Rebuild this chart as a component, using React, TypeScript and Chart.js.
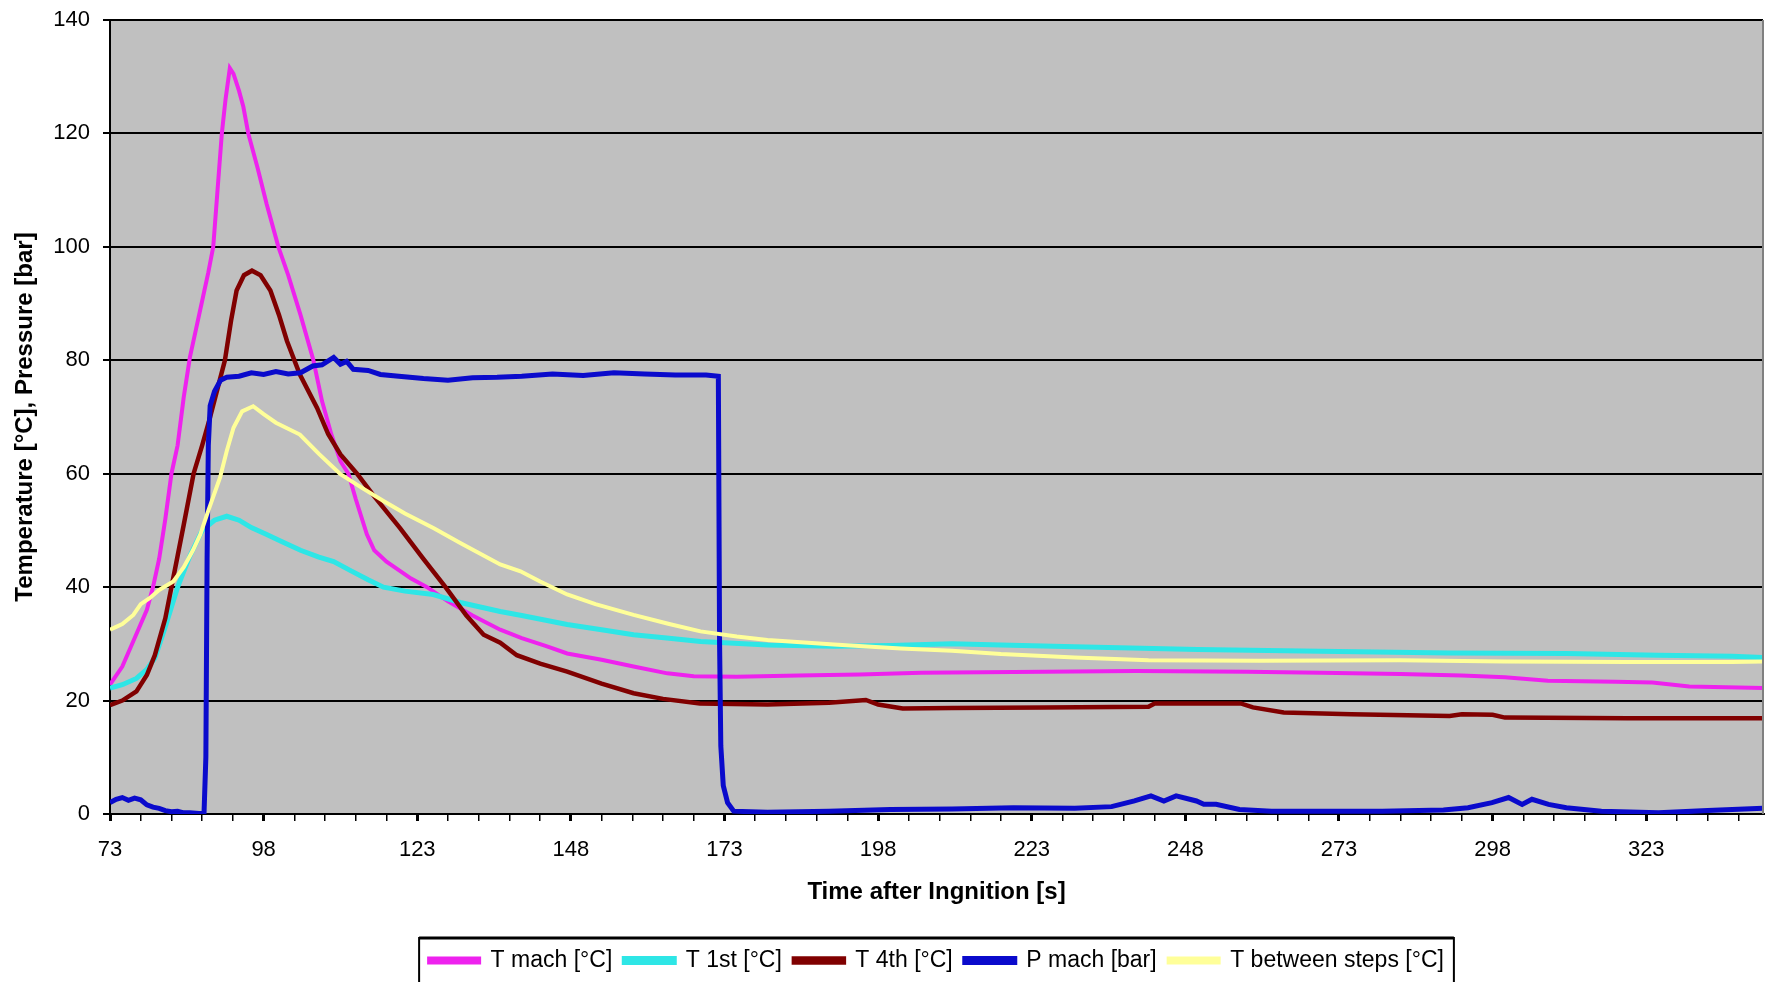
import React, { useEffect, useRef } from 'react';
import { Chart, registerables } from 'chart.js';

Chart.register(...registerables);

// T mach [°C]
const machTime = [73, 75, 77, 79, 80, 81, 82, 83, 84, 85, 86, 87, 88, 89, 89.8, 90.5, 91.2, 91.8, 92.5, 93.1, 94, 94.7, 95.5, 97, 98.5, 100.4, 102, 104, 106.1, 107.5, 109, 110.5, 111.8, 113, 114.8, 116, 118, 120, 122, 124.6, 128, 132, 136.5, 140, 144, 147.4, 153, 158.2, 163.7, 168, 175, 185, 195, 205, 215, 225, 240, 258, 270, 283, 293, 300, 307, 318, 324, 330, 342];
const machTemp = [22.8, 26, 31, 36, 40, 45, 52, 60, 65, 73.5, 80.5, 85.5, 90.5, 95.5, 100, 110, 120, 126, 131.5, 130.5, 127.5, 124.7, 120, 114, 107.5, 100, 95, 88, 80, 72.8, 67, 62.2, 60, 55.5, 49.3, 46.5, 44.5, 43, 41.5, 40, 37.5, 35, 32.5, 31, 29.6, 28.3, 27.2, 26, 24.8, 24.3, 24.2, 24.4, 24.6, 24.9, 25, 25.1, 25.2, 25.1, 24.9, 24.7, 24.4, 24.1, 23.5, 23.3, 23.2, 22.5, 22.2];

// T 1st [°C]
const firstTime = [73, 75, 77.3, 79, 80.3, 82, 84, 86, 88, 90, 92, 94, 96, 98.5, 101, 104, 107, 109.4, 112, 115, 117.5, 121, 125.6, 130, 136.5, 140, 147.4, 153, 158.2, 164, 169.1, 180, 190.8, 200, 210, 218, 230, 250, 270, 291, 310, 325, 337, 342];
const firstTemp = [22.2, 22.8, 23.9, 25.5, 27.5, 33, 40, 45.5, 50, 51.8, 52.5, 51.8, 50.5, 49.3, 48, 46.5, 45.3, 44.5, 43, 41.3, 40, 39.3, 38.7, 37.3, 35.7, 35, 33.4, 32.5, 31.6, 31, 30.4, 29.8, 29.6, 29.7, 30, 29.8, 29.5, 29, 28.7, 28.4, 28.3, 28, 27.8, 27.6];

// T 4th [°C]
const fourthTime = [73, 75, 77.3, 79, 80.3, 82, 83, 84, 85, 86.6, 88, 89.3, 90.5, 91.7, 92.7, 93.6, 94.8, 96.1, 97.5, 99.1, 100.5, 101.8, 103.9, 106.7, 108.5, 110.5, 113.2, 116, 120.2, 124, 127.6, 131, 133.8, 136.5, 139.2, 143, 147.4, 153, 158.2, 163, 169, 180, 190, 196, 198, 202, 210, 225, 242, 243, 257, 259, 264, 275, 291, 293, 298, 300, 320, 342];
const fourthTemp = [19.2, 20, 21.6, 24.5, 28, 34.5, 40, 45.5, 51, 60, 65, 70, 75, 80, 87, 92.3, 95, 95.8, 95, 92.3, 88, 83.4, 77.5, 71.6, 67, 63.4, 60, 56, 50.4, 45, 40, 35, 31.6, 30.2, 28, 26.5, 25.1, 23, 21.3, 20.3, 19.5, 19.3, 19.6, 20.1, 19.3, 18.6, 18.7, 18.8, 18.9, 19.5, 19.5, 18.8, 17.9, 17.6, 17.3, 17.6, 17.5, 17, 16.9, 16.9];

// P mach [bar]
const pressTime = [73, 74, 75, 76, 77, 78, 79, 80, 81, 82, 83, 84, 85, 86, 87.5, 88.3, 88.6, 88.8, 89, 89.3, 90, 91, 92, 94, 96, 98, 100, 102, 104, 106, 107.5, 109.4, 110.5, 111.5, 112.6, 115, 117, 120, 124, 128, 132, 136, 140, 145, 150, 155, 160, 165, 170, 172, 172.2, 172.4, 172.8, 173.5, 174.5, 180, 190, 200, 210, 220, 230, 236, 239.7, 242.4, 244.5, 246.5, 249.8, 251, 253, 256.8, 262, 280, 290, 294, 297.9, 300.6, 302.8, 304.4, 307.1, 310, 315.7, 325, 333, 337, 342];
const pressBar = [2, 2.6, 2.9, 2.4, 2.8, 2.5, 1.6, 1.2, 1, 0.6, 0.4, 0.5, 0.2, 0.2, 0.1, 0.1, 10, 45, 65, 72, 74.5, 76.5, 77, 77.2, 77.8, 77.5, 78, 77.6, 77.8, 79, 79.2, 80.5, 79.3, 79.8, 78.4, 78.2, 77.5, 77.2, 76.8, 76.5, 76.9, 77, 77.2, 77.6, 77.3, 77.8, 77.6, 77.4, 77.4, 77.2, 30, 12, 5, 2, 0.5, 0.3, 0.5, 0.8, 0.9, 1.1, 1, 1.3, 2.3, 3.2, 2.3, 3.2, 2.3, 1.7, 1.7, 0.8, 0.5, 0.5, 0.7, 1.1, 2, 2.9, 1.7, 2.6, 1.7, 1.1, 0.5, 0.2, 0.6, 0.8, 1];

// T between steps [°C]
const betweenTime = [73, 74, 75, 76.8, 78, 79.5, 81, 83.3, 85, 86.5, 87.7, 89, 90.9, 92, 93.1, 94.5, 96.3, 98, 100, 103.9, 107, 110.5, 114, 117.5, 121, 125.7, 130, 136.5, 139.8, 143, 147.4, 152, 158.2, 164, 169.1, 175, 180, 190.8, 201.7, 210, 218, 230, 242, 260, 283, 300, 320, 337, 342];
const betweenTemp = [32.5, 33, 33.5, 35.1, 37, 38.1, 39.5, 41, 43.5, 46.5, 49.3, 53.5, 59.3, 64, 68.1, 71, 71.9, 70.5, 69, 66.9, 63.5, 59.9, 57.5, 55.2, 53, 50.4, 47.8, 44, 42.8, 41, 38.7, 37, 35.1, 33.5, 32.2, 31.3, 30.7, 29.9, 29.2, 28.8, 28.2, 27.6, 27.1, 27, 27.1, 26.9, 26.8, 26.8, 26.9];

const xLabelTicks = [73, 98, 123, 148, 173, 198, 223, 248, 273, 298, 323];
const xMin = 73;
const xMax = 342;

const FONT = 'Arial, "Liberation Sans", sans-serif';

const toPoints = (t: number[], v: number[]) => t.map((x, i) => ({ x, y: v[i] }));

// gray plot background, gray right frame, boxed legend centred under the plot
const excelLook = {
  id: 'excelLook',
  beforeDraw(chart: any) {
    const { ctx, chartArea } = chart;
    const lg = chart.legend;
    if (lg) {
      const mid = (chartArea.left + chartArea.right) / 2;
      const shift = mid - lg.width / 2 - lg.left;
      if (Math.abs(shift) > 0.01) {
        lg.left += shift;
        lg.right += shift;
        (lg.legendHitBoxes || []).forEach((b: any) => {
          b.left += shift;
        });
      }
    }
    ctx.save();
    ctx.fillStyle = '#C0C0C0';
    ctx.fillRect(chartArea.left, chartArea.top, chartArea.right - chartArea.left, chartArea.bottom - chartArea.top);
    ctx.restore();
  },
  afterDraw(chart: any) {
    const { ctx, chartArea } = chart;
    ctx.save();
    ctx.strokeStyle = '#808080';
    ctx.lineWidth = 2;
    ctx.beginPath();
    ctx.moveTo(chartArea.right, chartArea.top);
    ctx.lineTo(chartArea.right, chartArea.bottom);
    ctx.stroke();

    const boxes = chart.legend?.legendHitBoxes || [];
    if (boxes.length) {
      const l = Math.min(...boxes.map((b: any) => b.left)) - 10;
      const r = Math.max(...boxes.map((b: any) => b.left + b.width)) + 10;
      const t = boxes[0].top - 11;
      ctx.strokeStyle = '#000';
      ctx.lineWidth = 2;
      ctx.strokeRect(l, t, r - l, 80);
      ctx.lineWidth = 3;
      ctx.beginPath();
      ctx.moveTo(l, t);
      ctx.lineTo(r, t);
      ctx.stroke();
    }
    ctx.restore();
  },
};

const App: React.FC = () => {
  const chartRef = useRef<HTMLCanvasElement>(null);

  useEffect(() => {
    if (!chartRef.current) return;
    Chart.defaults.font.family = FONT;
    Chart.defaults.color = '#000';

    const line = (label: string, color: string, t: number[], v: number[], width: number, order: number) => ({
      label,
      data: toPoints(t, v),
      borderColor: color,
      backgroundColor: color,
      borderWidth: width,
      pointRadius: 0,
      tension: 0,
      order,
    });

    const chart = new Chart(chartRef.current, {
      type: 'line',
      data: {
        datasets: [
          line('T mach [°C]', '#EE22EE', machTime, machTemp, 4, 5),
          line('T 1st [°C]', '#2EE6E6', firstTime, firstTemp, 5, 4),
          line('T 4th [°C]', '#800000', fourthTime, fourthTemp, 4.5, 3),
          line('P mach [bar]', '#0A0ACC', pressTime, pressBar, 5, 2),
          line('T between steps [°C]', '#FFFF99', betweenTime, betweenTemp, 4, 1),
        ],
      },
      options: {
        responsive: false,
        animation: false,
        layout: { padding: { left: 0, right: 10, top: 20, bottom: 0 } },
        scales: {
          x: {
            type: 'linear',
            min: xMin,
            max: xMax,
            afterBuildTicks: (scale: any) => {
              const ticks = [];
              for (let v = xMin; v <= xMax; v += 5) ticks.push({ value: v });
              scale.ticks = ticks;
            },
            afterFit: (scale: any) => {
              scale.height = 123;
              scale.paddingLeft = 0;
              scale.paddingRight = 0;
            },
            ticks: {
              autoSkip: false,
              maxRotation: 0,
              padding: 16,
              font: { size: 22 },
              color: '#000',
              callback: (v: any) => (xLabelTicks.includes(Number(v)) ? String(v) : ''),
            },
            grid: {
              drawOnChartArea: false,
              drawTicks: true,
              tickLength: 7,
              color: '#000',
              lineWidth: (ctx: any) => (xLabelTicks.includes(ctx.tick?.value) ? 3 : 1.5),
            },
            border: { color: '#000', width: 2 },
            title: {
              display: true,
              text: 'Time after Ingnition [s]',
              font: { size: 24, weight: 'bold' },
              color: '#000',
              padding: { top: 0, bottom: 30 },
            },
          },
          y: {
            min: 0,
            max: 140,
            afterFit: (scale: any) => {
              scale.width = 110;
              scale.paddingTop = 0;
              scale.paddingBottom = 0;
            },
            ticks: {
              stepSize: 20,
              padding: 13,
              font: { size: 22 },
              color: '#000',
            },
            grid: {
              color: '#000',
              lineWidth: 2,
              tickLength: 7,
              tickColor: '#000',
            },
            border: { color: '#000', width: 2 },
            title: {
              display: true,
              text: 'Temperature [°C], Pressure [bar]',
              font: { size: 24, weight: 'bold' },
              color: '#000',
              padding: { top: 11, bottom: 0 },
            },
          },
        },
        plugins: {
          legend: {
            position: 'bottom',
            labels: {
              boxWidth: 50,
              boxHeight: 4,
              padding: 12,
              color: '#000',
              font: { size: 23 },
              sort: (a: any, b: any) => a.datasetIndex - b.datasetIndex,
            },
          },
          tooltip: { enabled: false },
        },
      },
      plugins: [excelLook],
    } as any);

    return () => {
      chart.destroy();
    };
  }, []);

  return (
    <div style={{ position: 'fixed', left: 0, top: 0, width: 1773, height: 982, background: '#fff' }}>
      <canvas ref={chartRef} width={1773} height={982} style={{ display: 'block' }} />
    </div>
  );
};

export default App;
